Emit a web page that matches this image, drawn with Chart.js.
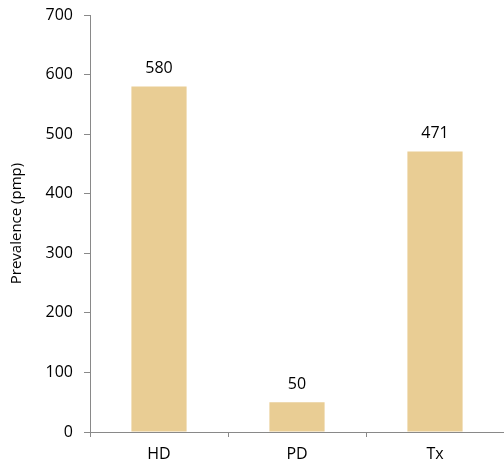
<!DOCTYPE html>
<html>
<head>
<meta charset="utf-8">
<script src="https://cdn.jsdelivr.net/npm/chart.js@4/dist/chart.umd.min.js"></script>
<style>
  html, body { margin: 0; padding: 0; background: #fff; }
  #wrap { width: 504px; height: 470px; }
</style>
</head>
<body>
<div id="wrap"><canvas id="prevChart" width="504" height="470"></canvas></div>
<script>
// values
const categories = ['HD', 'PD', 'Tx'];
const prevalence = [580, 50, 471];
const yTicks = [0, 100, 200, 300, 400, 500, 600, 700];

const axisGray = '#898989';
const fontFamily = '"Open Sans", "Noto Sans", sans-serif';

// draws the value above each bar
const valueLabels = {
    id: 'valueLabels',
    afterDatasetsDraw(chart) {
        const ctx = chart.ctx;
        const meta = chart.getDatasetMeta(0);
        ctx.save();
        ctx.font = '16px ' + fontFamily;
        ctx.fillStyle = '#000';
        ctx.textAlign = 'center';
        ctx.textBaseline = 'bottom';
        meta.data.forEach(function(bar, i){
            ctx.fillText(String(prevalence[i]), bar.x, bar.y - 10);
        });
        ctx.restore();
    }
};

document.addEventListener('DOMContentLoaded', function(){
    new Chart(document.getElementById('prevChart'), {
        type: 'bar',
        data: {
            labels: categories,
            datasets: [{
                label: 'Prevalence',
                data: prevalence,
                backgroundColor: '#E9CD94',
                borderWidth: 0,
                barPercentage: 0.4,
                categoryPercentage: 1.0
            }]
        },
        options: {
            responsive: false,
            animation: false,
            layout: { padding: 0 },
            plugins: { legend: { display: false }, tooltip: { enabled: false } },
            scales: {
                x: {
                    grid: { offset: true, drawOnChartArea: false, tickLength: 5, color: axisGray },
                    border: { color: axisGray, width: 1 },
                    ticks: { color: '#000', padding: 8, font: { family: fontFamily, size: 16 } },
                    afterFit: function(scale){ scale.height = 38; scale.paddingRight = 0; }
                },
                y: {
                    min: 0,
                    max: 700,
                    afterBuildTicks: function(scale){ scale.ticks = yTicks.map(v => ({ value: v })); },
                    grid: { drawOnChartArea: false, tickLength: 6, color: axisGray },
                    border: { color: axisGray, width: 1 },
                    ticks: { color: '#000', padding: 11, font: { family: fontFamily, size: 16 } },
                    title: {
                        display: true,
                        text: 'Prevalence (pmp)',
                        color: '#000',
                        padding: { top: 8, bottom: 0 },
                        font: { family: fontFamily, size: 15 }
                    },
                    afterFit: function(scale){ scale.width = 90; scale.paddingTop = 15; scale.paddingBottom = 0; }
                }
            }
        },
        plugins: [valueLabels]
    });
});
</script>
</body>
</html>
